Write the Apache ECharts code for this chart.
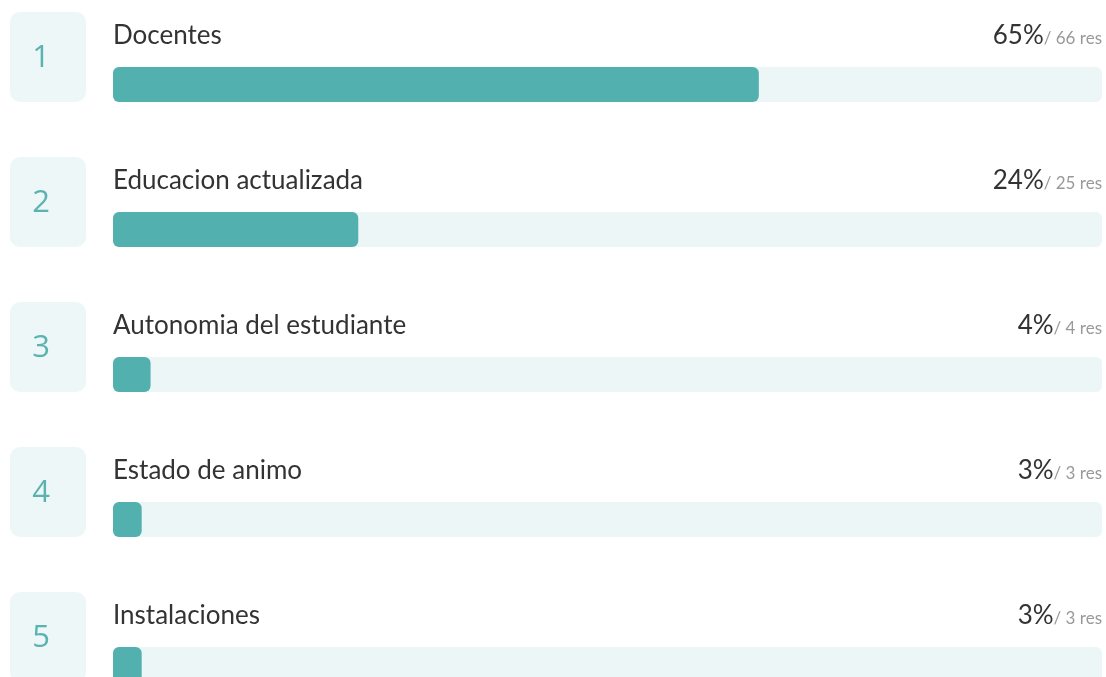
<!DOCTYPE html>
<html lang="es">
<head>
    <meta charset="utf-8">
    <title>Resultados</title>
    <script src="https://cdn.jsdelivr.net/npm/echarts@6/dist/echarts.min.js"></script>
</head>
<body style="margin:0; background:#fff;">
<div id="main" style="width: 1106px; height: 677px;"></div>

<script type="text/javascript">
    // datos
    const categories = ['Docentes', 'Educacion actualizada', 'Autonomia del estudiante', 'Estado de animo', 'Instalaciones'];
    const shares = [65.3, 24.8, 3.8, 2.9, 2.9];   // largo de cada barra (%)
    const percents = [65, 24, 4, 3, 3];          // texto mostrado
    const responses = [66, 25, 4, 3, 3];

    const teal = '#52b0ae';
    const track = '#edf6f7';
    const barH = 35;

    function drawRow(params, api) {
        const i = params.dataIndex;
        const start = api.coord([0, i]);
        const end = api.coord([100, i]);
        const band = api.size([0, 1])[1];
        const yc = start[1];
        const barTop = yc - barH / 2;
        const rowTop = yc - band / 2;
        return {
            type: 'group',
            children: [
                {
                    type: 'rect',
                    shape: { x: start[0] - 103, y: rowTop, width: 76, height: barTop + barH - rowTop, r: 10 },
                    style: { fill: '#eef7f7' }
                },
                {
                    type: 'text',
                    style: {
                        x: start[0] - 72, y: (rowTop + barTop + barH) / 2 + 1,
                        text: String(i + 1), fill: '#5ab3b1',
                        font: '31px "Open Sans"', align: 'center', verticalAlign: 'middle'
                    }
                },
                {
                    type: 'text',
                    style: {
                        x: start[0], y: barTop - 18,
                        text: categories[i], fill: '#333',
                        font: '26px Lato', align: 'left', verticalAlign: 'bottom'
                    }
                },
                {
                    type: 'text',
                    style: {
                        x: end[0], y: barTop - 18,
                        text: '{p|' + percents[i] + '%}{r|/ ' + responses[i] + ' res}',
                        align: 'right', verticalAlign: 'bottom',
                        rich: {
                            p: { font: '26px Lato', fill: '#333', verticalAlign: 'bottom' },
                            r: { font: '17px Lato', fill: '#999', verticalAlign: 'bottom', padding: [0, 0, 2, 0] }
                        }
                    }
                }
            ]
        };
    }

    const myChart = echarts.init(document.getElementById('main'));
    const option = {
        animation: false,
        grid: { left: 113, right: 4, top: 12, height: 725, outerBoundsMode: 'none' },
        xAxis: { type: 'value', min: 0, max: 100, show: false },
        yAxis: { type: 'category', data: categories, inverse: true, show: false },
        series: [
            {
                type: 'bar',
                data: shares,
                barWidth: barH,
                itemStyle: { color: teal, borderRadius: 6 },
                showBackground: true,
                backgroundStyle: { color: track, borderRadius: 6 }
            },
            {
                type: 'custom',
                data: categories.map(function (c, i) { return [0, i]; }),
                renderItem: drawRow,
                silent: true
            }
        ]
    };
    myChart.setOption(option);
</script>
</body>
</html>
